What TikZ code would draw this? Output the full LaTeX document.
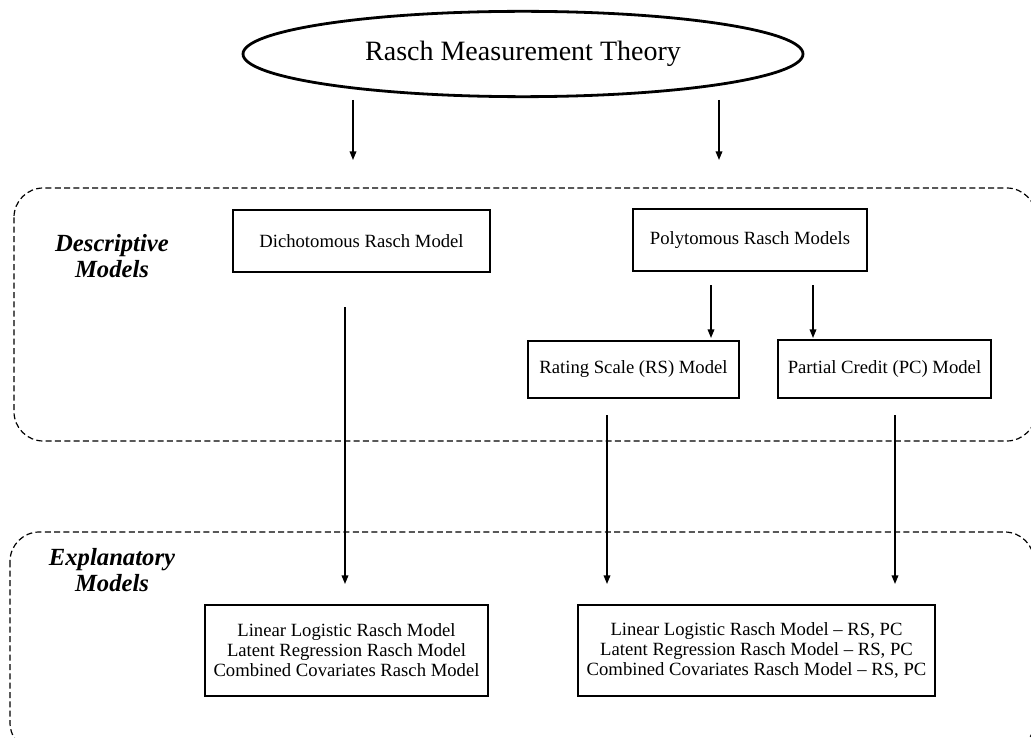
\documentclass[tikz,border=0pt]{standalone}
\usepackage{fontspec}
\setmainfont{Liberation Serif}
\usetikzlibrary{shapes.geometric,arrows.meta}
\begin{document}
\begin{tikzpicture}[x=0.75pt,y=-0.75pt,
  box/.style={draw, line width=2.1pt, inner sep=0pt, align=center, font=\fontsize{14}{15}\selectfont},
  arr/.style={-{Triangle[length=6.5pt,width=5pt]}, line width=1.1pt},
  region/.style={draw, dash pattern=on 4.5pt off 2.5pt, line width=0.9pt, rounded corners=22pt},
  lbl/.style={font=\fontsize{18.5}{20}\selectfont\bfseries\itshape, align=center}]
\useasboundingbox (0,0) rectangle (1031,738);
\clip (0,0) rectangle (1031,738);
% regions
\draw[region] (14,188) rectangle (1036,441);
\draw[region] (10,532) rectangle (1034,752);
\node[lbl] (desc) at (112,256) {Descriptive\\Models};
\node[lbl] (expl) at (112,570) {Explanatory\\Models};
% nodes
\node[draw, ellipse, line width=2.1pt, inner sep=0pt, minimum width=420pt, minimum height=64pt, font=\fontsize{21}{24}\selectfont] (rmt) at (523,54) {Rasch Measurement Theory};
\node[box, minimum width=192.75pt, minimum height=46.5pt] (dich) at (361.5,241) {Dichotomous Rasch Model};
\node[box, minimum width=175.5pt, minimum height=46.5pt] (poly) at (750,240) {Polytomous Rasch Models};
\node[box, minimum width=158.25pt, minimum height=42.75pt] (rs) at (633.5,369.5) {Rating Scale (RS) Model};
\node[box, minimum width=159.75pt, minimum height=43.5pt] (pc) at (884.5,369) {Partial Credit (PC) Model};
\node[box, minimum width=212.25pt, minimum height=68.25pt] (bl) at (346.5,650.5) {Linear Logistic Rasch Model\\Latent Regression Rasch Model\\Combined Covariates Rasch Model};
\node[box, minimum width=267.75pt, minimum height=68.25pt] (br) at (756.5,650.5) {Linear Logistic Rasch Model -- RS, PC\\Latent Regression Rasch Model -- RS, PC\\Combined Covariates Rasch Model -- RS, PC};
% arrow end points
\coordinate (a1s) at (353,100); \coordinate (a1e) at (353,160);
\coordinate (a2s) at (719,100); \coordinate (a2e) at (719,160);
\coordinate (a3s) at (345,307); \coordinate (a3e) at (345,584);
\coordinate (a4s) at (711,285); \coordinate (a4e) at (711,338);
\coordinate (a5s) at (813,285); \coordinate (a5e) at (813,338);
\coordinate (a6s) at (607,415); \coordinate (a6e) at (607,584);
\coordinate (a7s) at (895,415); \coordinate (a7e) at (895,584);
\foreach \i in {1,...,7} \draw[arr] (a\i s) -- (a\i e);
\end{tikzpicture}
\end{document}
